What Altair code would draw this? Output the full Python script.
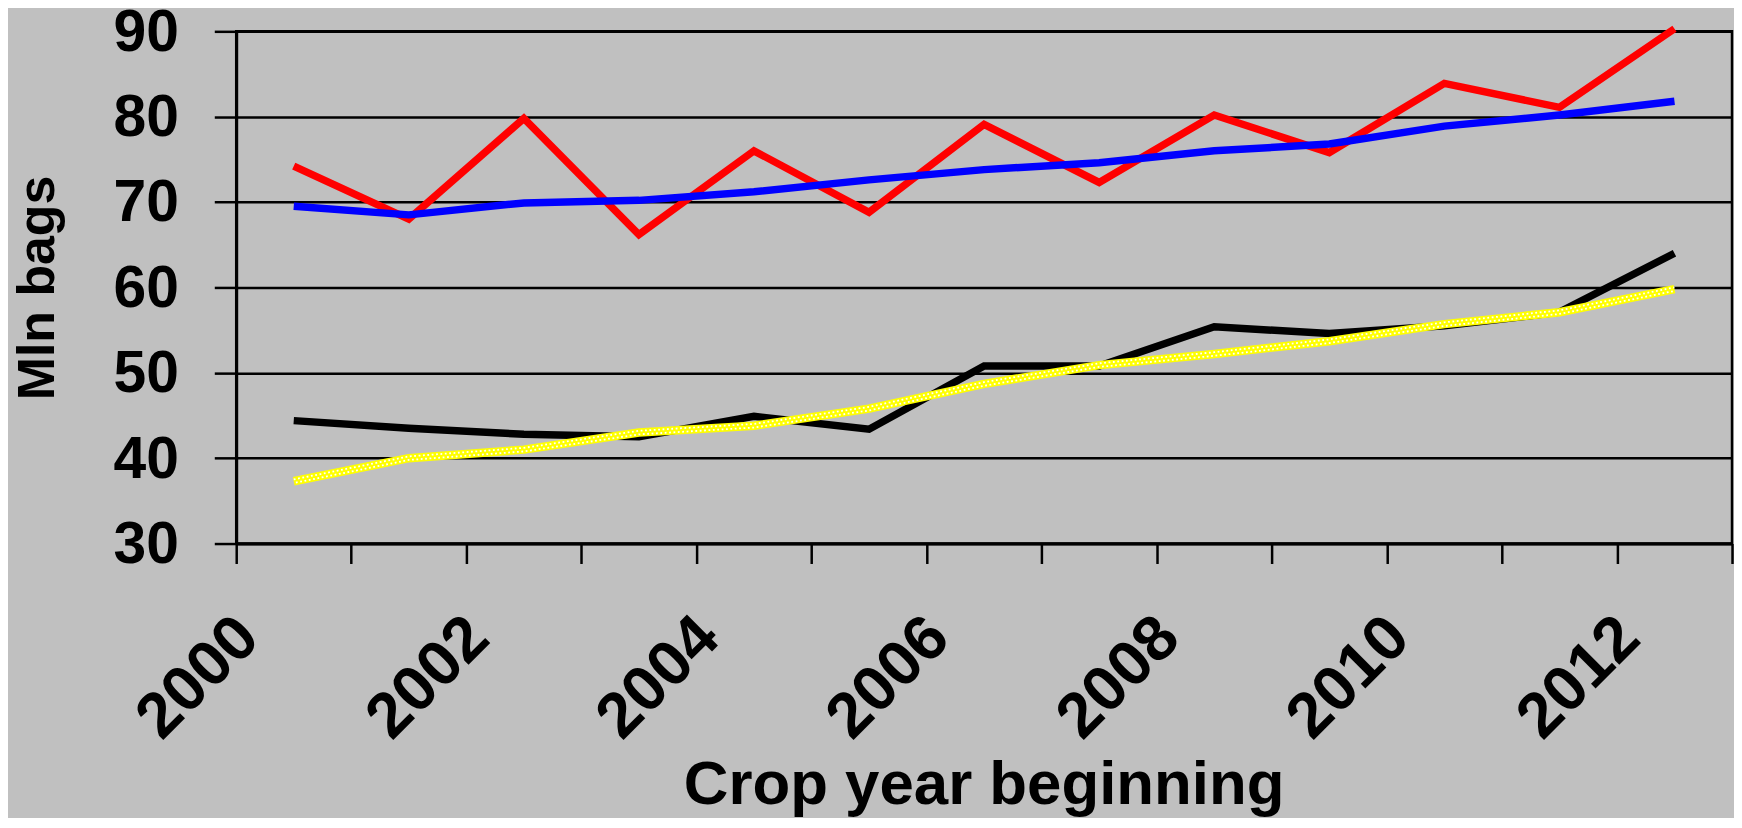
import altair as alt
import pandas as pd

# Crop years (beginning) and series values (Mln bags)
years = [2000, 2001, 2002, 2003, 2004, 2005, 2006, 2007, 2008, 2009, 2010, 2011, 2012]
red_series = [74.2, 68.0, 79.8, 66.2, 76.0, 68.8, 79.1, 72.3, 80.2, 75.8, 83.9, 81.1, 90.3]
blue_series = [69.5, 68.5, 69.9, 70.2, 71.2, 72.6, 73.8, 74.6, 76.0, 76.8, 78.9, 80.2, 81.8]
black_series = [44.4, 43.5, 42.8, 42.5, 44.9, 43.4, 50.8, 50.8, 55.4, 54.6, 55.5, 57.1, 64.0]
yellow_series = [37.3, 40.0, 41.0, 43.0, 43.8, 45.8, 48.7, 50.9, 52.2, 53.7, 55.7, 57.1, 59.8]

y_ticks = [30, 40, 50, 60, 70, 80, 90]
x_ticks = list(range(2000, 2014))

rows = []
for name, vals in [("red", red_series), ("blue", blue_series),
                   ("black", black_series), ("yellow", yellow_series)]:
    for yr, v in zip(years, vals):
        rows.append({"series": name, "year": yr, "value": v})
df = pd.DataFrame(rows)

FONT = "Liberation Sans"
TOP = 22
H = 514

x_enc = alt.X(
    "xpos:Q",
    scale=alt.Scale(domain=[2000, 2013], nice=False, zero=False),
    axis=alt.Axis(
        values=x_ticks,
        labelExpr="datum.value % 2 === 0 ? '' + datum.value : ''",
        labelAngle=-45,
        labelAlign="right",
        labelBaseline="middle",
        labelPadding=64,
        labelOffset=12,
        labelOverlap=False,
        labelFlush=False,
        labelFont=FONT,
        labelFontSize=64,
        labelFontWeight="bold",
        labelColor="black",
        tickSize=20,
        tickWidth=2.5,
        tickColor="black",
        domainColor="black",
        domainWidth=3,
        grid=False,
        title="Crop year beginning",
        titleFont=FONT,
        titleFontSize=62,
        titleFontWeight="bold",
        titleColor="black",
        titleX=750,
        titleY=261,
        titleAlign="center",
        titleBaseline="alphabetic",
    ),
)

y_enc = alt.Y(
    "value:Q",
    scale=alt.Scale(domain=[30, 90], nice=False, zero=False),
    axis=alt.Axis(
        values=y_ticks,
        format="d",
        labelFont=FONT,
        labelFontSize=59,
        labelFontWeight="bold",
        labelColor="black",
        labelPadding=36,
        labelBaseline="middle",
        labelOffset=1,
        tickSize=22,
        tickWidth=2.5,
        tickColor="black",
        domainColor="black",
        domainWidth=3,
        grid=True,
        gridColor="black",
        gridWidth=2.5,
        gridOpacity=1,
        title="Mln bags",
        titleFont=FONT,
        titleFontSize=52,
        titleFontWeight="bold",
        titleColor="black",
        titleAngle=-90,
        titleX=-199,
        titleY=H / 2,
        titleAlign="center",
        titleBaseline="middle",
    ),
)

base = alt.Chart(df).transform_calculate(xpos="datum.year + 0.5")


def series_line(name, color, width, **kw):
    return base.transform_filter(alt.datum.series == name).mark_line(
        color=color, strokeWidth=width, strokeJoin="miter", strokeCap="butt", **kw
    ).encode(x=x_enc, y=y_enc)


red = series_line("red", "#ff0000", 7.5)
blue = series_line("blue", "#0000ff", 7.5)
black = series_line("black", "#000000", 7.5)
yellow = series_line("yellow", "#ffff00", 8.5)
dots_a = series_line("yellow", "#ffffff", 1.8, strokeDash=[1.8, 2.6], yOffset=-1.8)
dots_b = series_line("yellow", "#ffffff", 1.8, strokeDash=[1.8, 2.6], yOffset=1.8, strokeDashOffset=2.2)

chart = alt.layer(red, blue, black, yellow, dots_a, dots_b).properties(
    width=1501,
    height=H,
    autosize=alt.AutoSizeParams(type="none"),
    padding={"left": 229, "top": TOP, "right": 2, "bottom": 810 - TOP - H},
    background="#c0c0c0",
).configure_view(
    stroke="black",
    strokeWidth=2.5,
)

chart.save("out.html", embed_options={"renderer": "svg", "actions": False})
